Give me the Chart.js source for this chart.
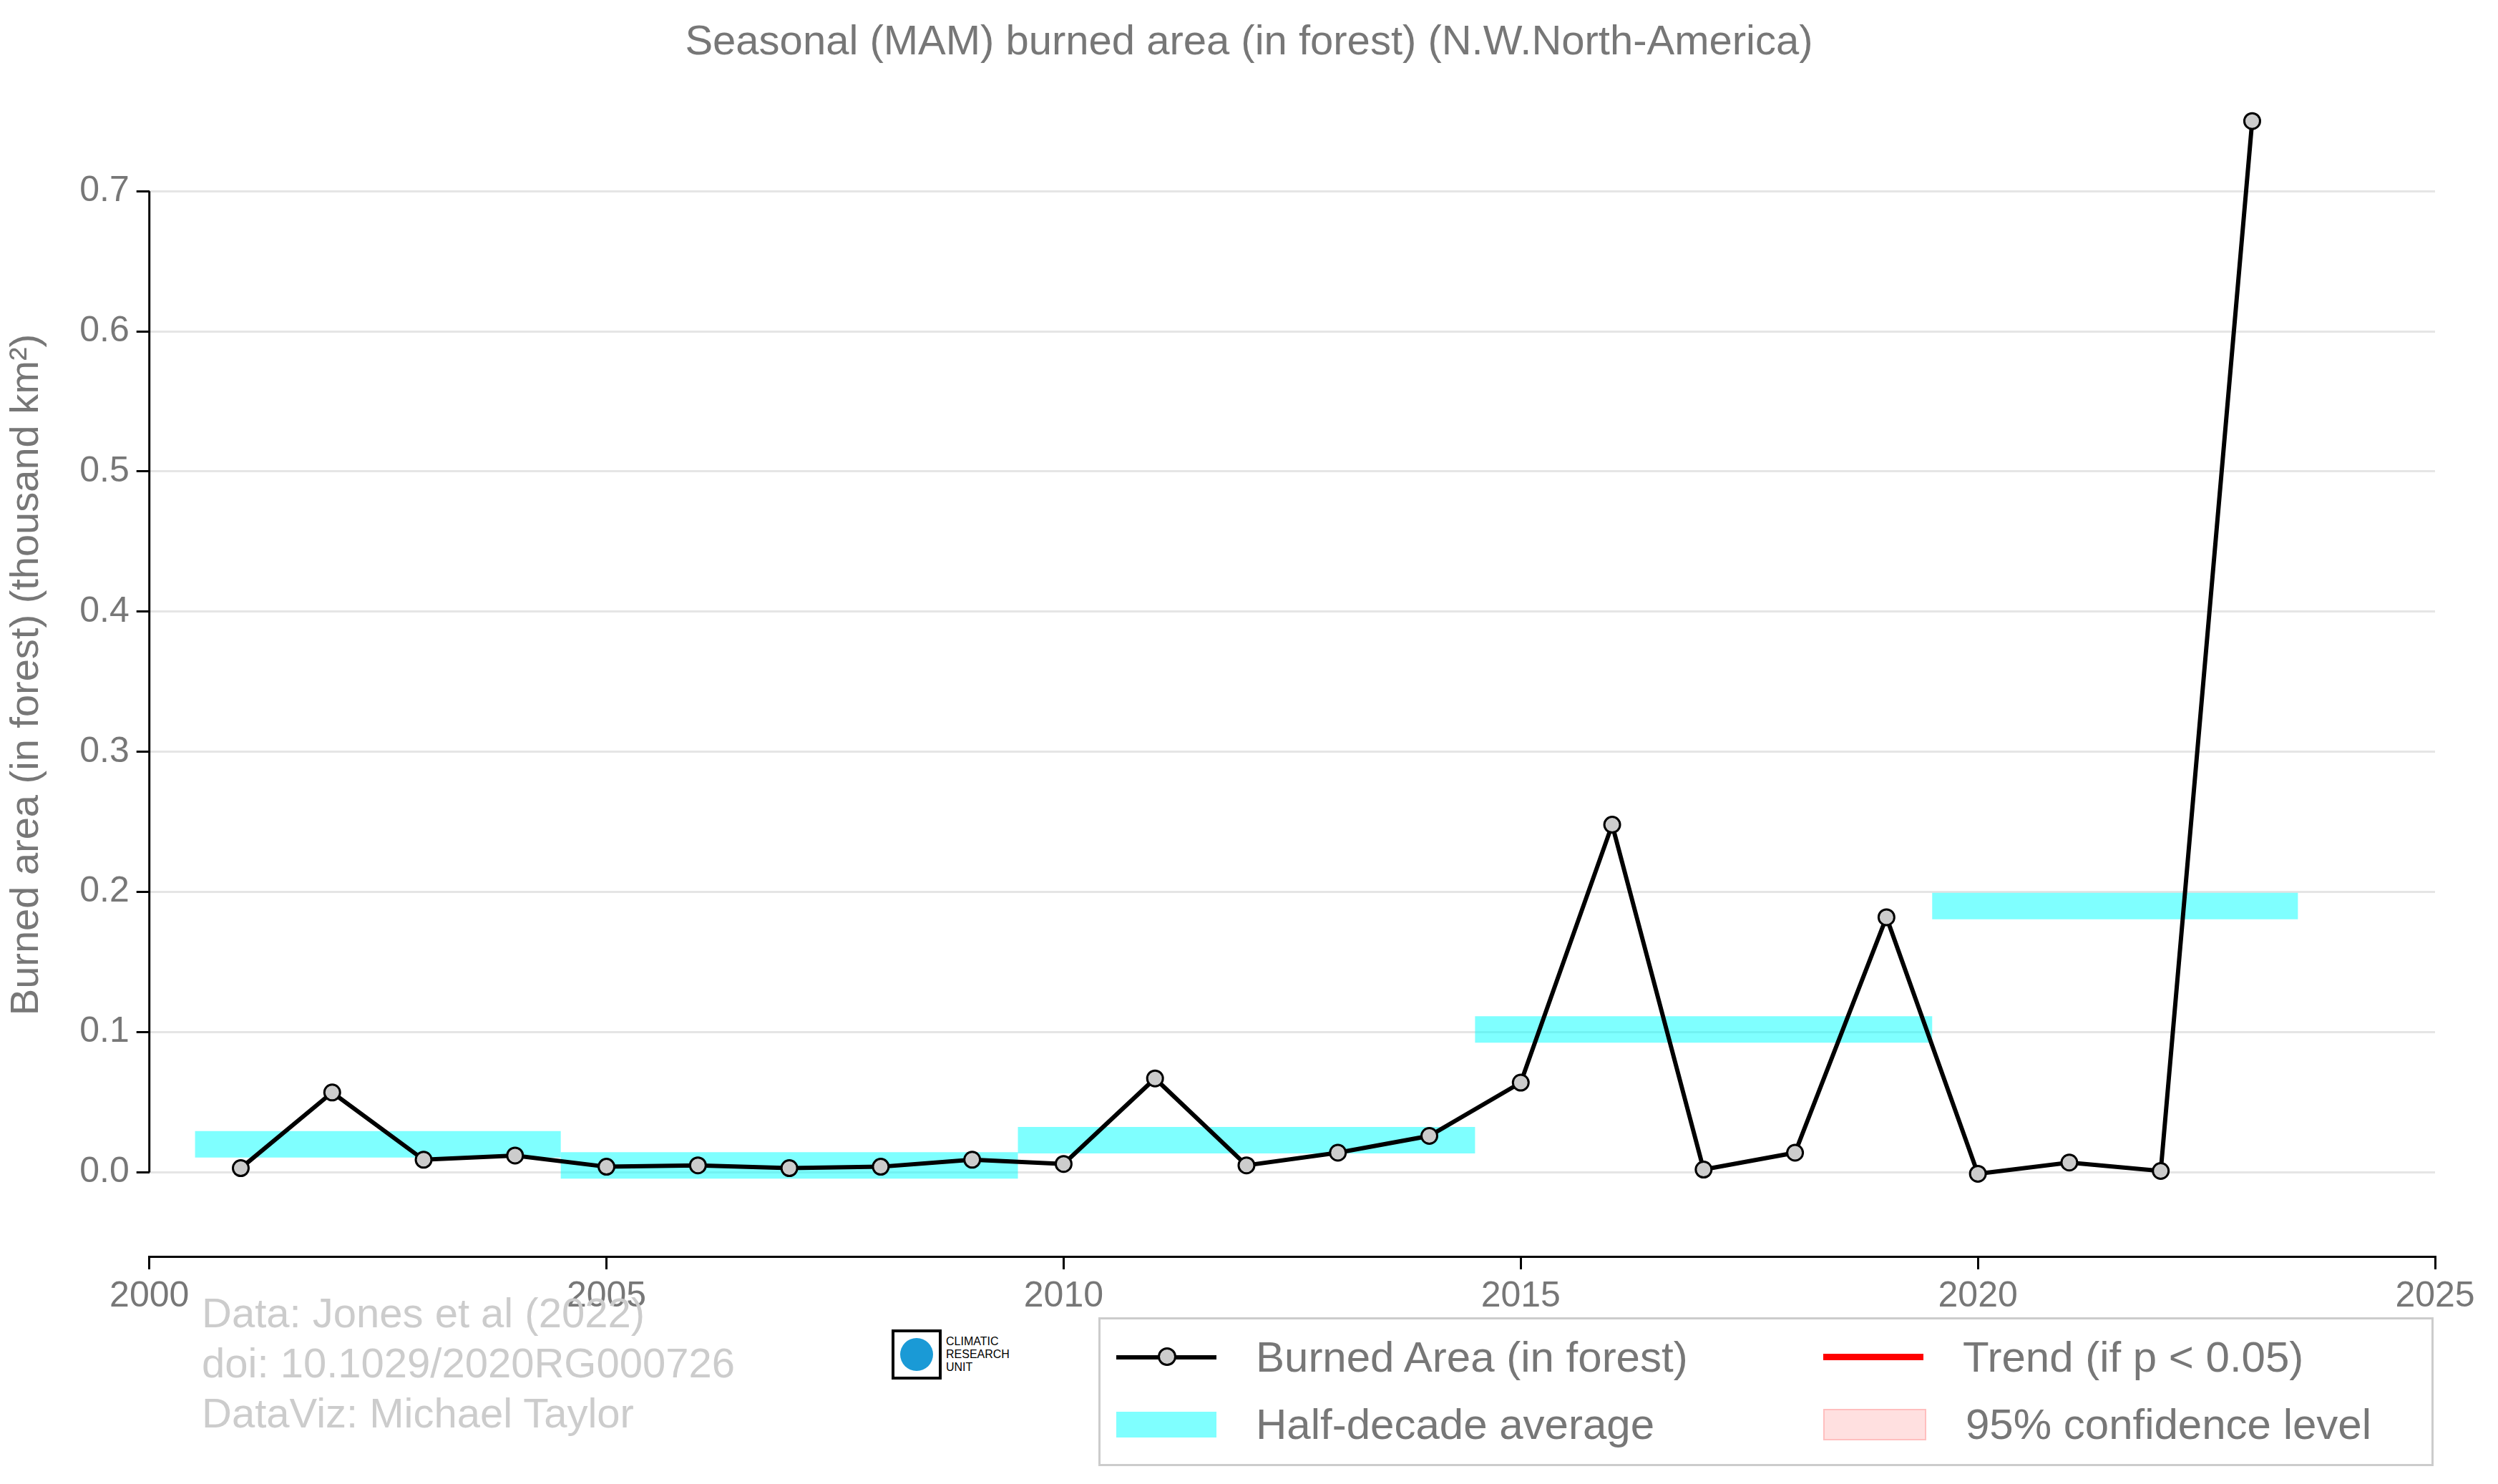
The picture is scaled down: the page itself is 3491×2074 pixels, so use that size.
<!DOCTYPE html>
<html>
<head>
<meta charset="utf-8">
<script src="https://cdn.jsdelivr.net/npm/chart.js@4"></script>
<style>
  body { margin:0; background:#fff; font-family:Arial, "Liberation Sans", sans-serif; }
  #wrap { position:absolute; left:0; top:90px; width:3491px; height:1760px; }
  #title { position:absolute; top:22px; left:0; width:3491px; text-align:center; color:#777; font-size:58px; }
  #credit { position:absolute; left:282px; top:1800px; color:#ccc; font-size:58px; line-height:70px; }
  #logo { position:absolute; left:1246px; top:1858px; font-size:16px; line-height:18px; color:#000; }
  #legend { position:absolute; left:1535px; top:1841px; width:1866px; height:208px; border:3px solid #ccc; box-sizing:border-box; color:#777; font-size:60px; }
  .it { position:absolute; display:flex; align-items:center; }
  .sw { width:140px; margin-right:55px; }
</style>
</head>
<body>
<div id="title">Seasonal (MAM) burned area (in forest) (N.W.North-America)</div>
<div id="wrap"><canvas id="c" width="3491" height="1760"></canvas></div>
<div id="credit">Data: Jones et al (2022)<br>doi: 10.1029/2020RG000726<br>DataViz: Michael Taylor</div>
<div id="logo"><div style="display:flex;align-items:center"><div style="width:70px;height:70px;border:4px solid #000;display:flex;align-items:center;justify-content:center;box-sizing:border-box"><div style="width:46px;height:46px;border-radius:50%;background:#1a9ad6"></div></div><div style="margin-left:6px">CLIMATIC<br>RESEARCH<br>UNIT</div></div></div>
<div id="legend">
  <div class="it" style="left:22px;top:18px"><div class="sw" style="position:relative;height:6px;background:#000"><div style="position:absolute;left:58px;top:-11px;width:20px;height:20px;border-radius:50%;background:#ccc;border:3px solid #000"></div></div>Burned Area (in forest)</div>
  <div class="it" style="left:22px;top:112px"><div class="sw" style="height:36px;background:rgba(0,255,255,0.5)"></div>Half-decade average</div>
  <div class="it" style="left:1010px;top:18px"><div class="sw" style="height:9px;background:#f00"></div>Trend (if p &lt; 0.05)</div>
  <div class="it" style="left:1010px;top:112px"><div class="sw" style="height:40px;background:rgba(255,0,0,0.12);border:2px solid rgba(255,0,0,0.15)"></div>95% confidence level</div>
</div>
<script>
const years = [2001,2002,2003,2004,2005,2006,2007,2008,2009,2010,2011,2012,2013,2014,2015,2016,2017,2018,2019,2020,2021,2022,2023];
const burned = [0.003,0.057,0.009,0.012,0.004,0.005,0.003,0.004,0.009,0.006,0.067,0.005,0.014,0.026,0.064,0.248,0.002,0.014,0.182,-0.001,0.007,0.001,0.750];
const halfStart = [2000.5,2004.5,2009.5,2014.5,2019.5];
const halfEnd = [2004.5,2009.5,2014.5,2019.5,2023.5];
const halfAvg = [0.020,0.005,0.023,0.102,0.190];
const xTicks = [2000,2005,2010,2015,2020,2025];
const yTicks = [0,0.1,0.2,0.3,0.4,0.5,0.6,0.7];

const bands = halfAvg.map((v,i) => ({
  data:[{x:halfStart[i],y:v},{x:halfEnd[i],y:v}],
  borderColor:'rgba(0,255,255,0.5)', borderWidth:37, pointRadius:0, borderCapStyle:'butt', order:2
}));

new Chart(document.getElementById('c'), {
  type:'line',
  data:{ datasets:[...bands, {
    data: years.map((y,i)=>({x:y,y:burned[i]})),
    borderColor:'#000', borderWidth:6, pointRadius:11, pointBorderWidth:3,
    pointBackgroundColor:'#ccc', pointBorderColor:'#000', order:1
  }]},
  options:{
    responsive:false, animation:false, devicePixelRatio:1,
    plugins:{ legend:{display:false}, tooltip:{enabled:false} },
    layout:{ padding:{ right:88, top:0 } },
    scales:{
      x:{ type:'linear', min:2000, max:2025,
        afterBuildTicks: a => { a.ticks = xTicks.map(v=>({value:v})); },
        grid:{ drawOnChartArea:false, color:'#000', lineWidth:3, tickLength:18 },
        border:{ color:'#000', width:3 },
        ticks:{ color:'#777', font:{size:50}, padding:8, callback:v=>String(v) } },
      y:{ min:-0.06, max:0.77,
        afterBuildTicks: a => { a.ticks = yTicks.map(v=>({value:v})); },
        grid:{ color:'#e5e5e5', lineWidth:3, tickColor:'#000', tickLength:18 },
        border:{ display:false },
        ticks:{ color:'#777', font:{size:50}, padding:10, callback:v=>v.toFixed(1) },
        title:{ display:true, text:'Burned area (in forest) (thousand km²)', color:'#777', font:{size:56}, padding:{bottom:30} } }
    }
  },
  plugins:[{ id:'yspine', afterDraw(ch){
    const c=ch.ctx, x=ch.scales.x.left, y=ch.scales.y;
    c.save(); c.strokeStyle='#000'; c.lineWidth=3; c.beginPath();
    c.moveTo(x, y.getPixelForValue(0.7)); c.lineTo(x, y.getPixelForValue(0)); c.stroke(); c.restore();
  }}]
});
</script>
</body>
</html>
